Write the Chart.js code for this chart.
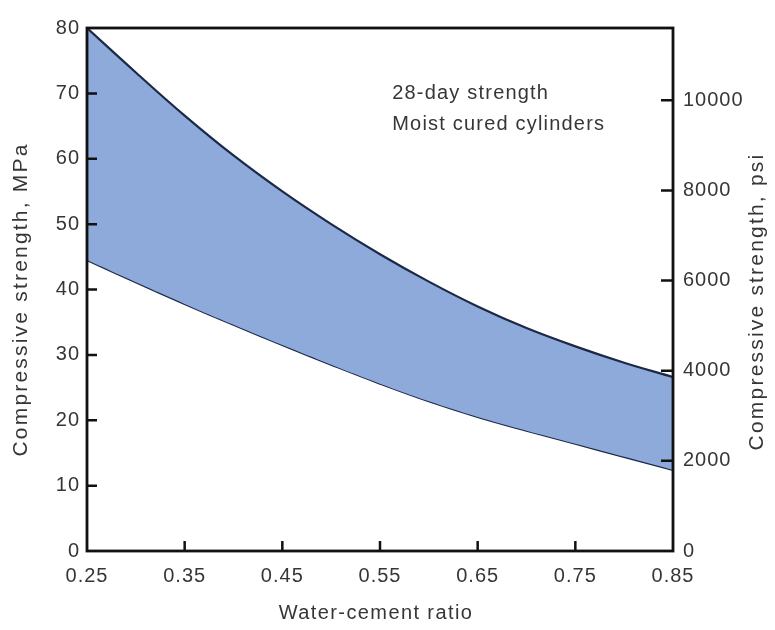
<!DOCTYPE html>
<html><head><meta charset="utf-8">
<script src="https://cdn.jsdelivr.net/npm/chart.js@4/dist/chart.umd.min.js"></script>
<style>html,body{margin:0;padding:0;background:#fff;}#wrap{width:775px;height:630px;}</style>
</head><body><div id="wrap"><canvas id="c" width="775" height="630"></canvas></div>
<script>
// ---- data ----
const wcRatio  = [0.25, 0.30, 0.35, 0.40, 0.45, 0.50, 0.55, 0.60, 0.65, 0.70, 0.75, 0.80, 0.85];
const upperMPa = [80.0, 73.2, 66.6, 60.5, 55.0, 50.0, 45.4, 41.2, 37.4, 34.1, 31.3, 28.8, 26.6];
const lowerMPa = [44.5, 41.1, 37.8, 34.6, 31.5, 28.5, 25.6, 22.9, 20.5, 18.4, 16.4, 14.4, 12.4];
const xTicks   = [0.25, 0.35, 0.45, 0.55, 0.65, 0.75, 0.85];
const mpaTicks = [0, 10, 20, 30, 40, 50, 60, 70, 80];
const psiTicks = [0, 2000, 4000, 6000, 8000, 10000];
const MPA_TO_PSI = 145.038;
const noteLines = ['28-day strength', 'Moist cured cylinders'];
const noteAnchor = {x: 0.5625, y: [70, 65.3]};
const xTitle = 'Water-cement ratio';
const yLeftTitle = 'Compressive strength, MPa';
const yRightTitle = 'Compressive strength, psi';

const FONT = '"Liberation Sans", Arial, sans-serif';
const TXT = '#363636';

const framePlugin = {
  id: 'frame',
  beforeDraw(chart) { chart.ctx.letterSpacing = '1px'; },
  afterDatasetsDraw(chart) {
    const {ctx, chartArea: a, scales} = chart;
    ctx.save();
    ctx.strokeStyle = '#111';
    ctx.lineWidth = 2.5;
    ctx.lineCap = 'butt';
    ctx.beginPath();
    mpaTicks.forEach(v => {
      if (v <= 0 || v >= 80) return;
      const y = scales.y.getPixelForValue(v);
      ctx.moveTo(a.left, y); ctx.lineTo(a.left + 10, y);
    });
    psiTicks.forEach(v => {
      if (v <= 0) return;
      const y = scales.y2.getPixelForValue(v);
      ctx.moveTo(a.right, y); ctx.lineTo(a.right - 12, y);
    });
    xTicks.forEach((v, i) => {
      if (i === 0 || i === xTicks.length - 1) return;
      const x = scales.x.getPixelForValue(v);
      ctx.moveTo(x, a.bottom); ctx.lineTo(x, a.bottom - 10);
    });
    ctx.stroke();
    ctx.lineWidth = 2.8;
    ctx.strokeRect(a.left, a.top, a.right - a.left, a.bottom - a.top);
    ctx.restore();
  },
  afterDraw(chart) {
    const {ctx, chartArea: a, scales} = chart;
    ctx.save();
    ctx.fillStyle = TXT;
    // annotation
    ctx.font = '20px ' + FONT;
    ctx.letterSpacing = '1.2px';
    ctx.textAlign = 'left';
    ctx.textBaseline = 'middle';
    noteLines.forEach((t, i) => {
      ctx.fillText(t, scales.x.getPixelForValue(noteAnchor.x), scales.y.getPixelForValue(noteAnchor.y[i]));
    });
    // x title
    ctx.textAlign = 'center';
    ctx.letterSpacing = '1.4px';
    ctx.fillText(xTitle, (a.left + a.right) / 2 - 4, 613);
    // y titles
    ctx.font = '21px ' + FONT;
    ctx.letterSpacing = '2.2px';
    const cy = (a.top + a.bottom) / 2 + 10;
    ctx.save(); ctx.translate(21, cy); ctx.rotate(-Math.PI / 2); ctx.fillText(yLeftTitle, 0, 0); ctx.restore();
    ctx.save(); ctx.translate(757, cy + 2); ctx.rotate(-Math.PI / 2); ctx.fillText(yRightTitle, 0, 0); ctx.restore();
    ctx.restore();
  }
};

const tickFont = {family: FONT, size: 20};

new Chart(document.getElementById('c'), {
  type: 'line',
  data: {
    datasets: [
      {
        data: wcRatio.map((x, i) => ({x, y: upperMPa[i]})),
        yAxisID: 'y', fill: '+1',
        backgroundColor: '#8eaadb', borderColor: '#1b2846', borderWidth: 2.2,
        pointRadius: 0, tension: 0.4
      },
      {
        data: wcRatio.map((x, i) => ({x, y: lowerMPa[i]})),
        yAxisID: 'y', fill: false,
        borderColor: '#1b2846', borderWidth: 2.2,
        pointRadius: 0, tension: 0.4
      }
    ]
  },
  options: {
    responsive: false, devicePixelRatio: 1, animation: false,
    layout: {padding: {top: 28, left: 0, right: 0, bottom: 0}},
    plugins: {legend: {display: false}, tooltip: {enabled: false}},
    scales: {
      x: {
        type: 'linear', min: 0.25, max: 0.85,
        afterBuildTicks: s => { s.ticks = xTicks.map(v => ({value: v})); },
        afterFit: s => { s.height = 79; },
        grid: {display: false, drawTicks: false}, border: {display: false},
        ticks: {font: tickFont, color: TXT, padding: 13, maxRotation: 0, autoSkip: false,
                callback: v => Number(v).toFixed(2)}
      },
      y: {
        position: 'left', min: 0, max: 80,
        afterBuildTicks: s => { s.ticks = mpaTicks.map(v => ({value: v})); },
        afterFit: s => { s.width = 87; },
        grid: {display: false, drawTicks: false}, border: {display: false},
        ticks: {font: tickFont, color: TXT, padding: 7}
      },
      y2: {
        position: 'right', min: 0, max: 80 * MPA_TO_PSI,
        afterBuildTicks: s => { s.ticks = psiTicks.map(v => ({value: v})); },
        afterFit: s => { s.width = 102; },
        grid: {display: false, drawTicks: false}, border: {display: false},
        ticks: {font: tickFont, color: TXT, padding: 10, callback: v => String(v)}
      }
    }
  },
  plugins: [framePlugin]
});
</script>
</body></html>
